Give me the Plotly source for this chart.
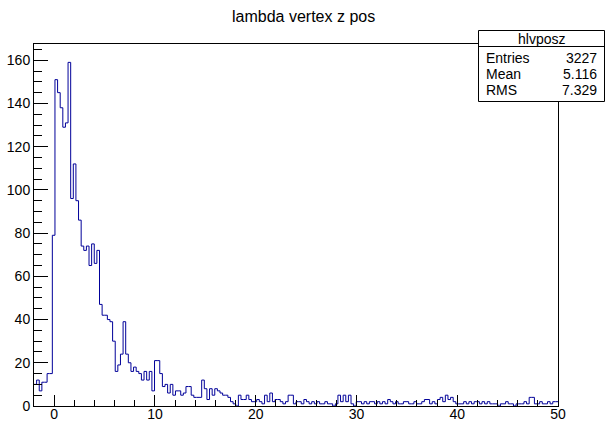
import numpy as np
import plotly.graph_objects as go

# Histogram hlvposz: lambda vertex z position, 200 bins on [-2, 50]
x_low = -2.0
x_high = 50.0
counts = [
    # bins 0-47 (z from -2 to about 10.5)
    10, 12, 7, 11, 11, 15, 15, 79,
    151, 145, 138, 129, 131, 159,
    96, 112, 95, 86,
    74, 72, 74, 65, 75, 66, 72,
    47, 42, 42, 40, 39, 30, 16, 19, 24, 39, 24, 20, 16, 18, 16,
    15, 12, 16, 12, 16, 7, 21, 21,
    # bins 48-89
    15, 9, 10, 6, 10, 5, 7, 7, 5, 6, 9, 9, 5, 4, 4, 4, 12, 8, 3, 8,
    5, 8, 7, 6, 5, 5, 4, 2, 1, 0, 5, 3, 3, 5, 3, 2, 2, 3, 2, 1,
    5, 2,
    # bins 90-147
    6, 2, 3, 3, 2, 1, 2, 5, 5, 1, 2, 2, 1, 3, 2, 1, 2, 1, 2, 1,
    1, 2, 1, 1, 0, 1, 5, 2, 5, 2, 5, 1, 0, 2, 2, 1, 2, 1, 2, 2,
    1, 2, 1, 2, 1, 3, 2, 1, 2, 1, 1, 2, 2, 1, 1, 2, 1, 1,
    # bins 148-199
    2, 3, 3, 1, 2, 1, 3, 4, 2, 5, 3, 4, 2, 1, 1, 1, 2, 1, 2, 1,
    2, 2, 1, 2, 1, 2, 1, 1, 1, 0, 1, 1, 2, 1, 1, 0, 1, 1, 1, 2,
    1, 4, 4, 1, 1, 2, 1, 1, 2, 1, 2, 2,
]

hist_title = "lambda vertex z pos"
stat_name = "hlvposz"
stat_labels = ["Entries", "Mean", "RMS"]
stat_values = ["3227", "5.116", "7.329"]

y_max = 167.5

n_bins = len(counts)
edges = np.linspace(x_low, x_high, n_bins + 1)
step_x = list(edges)
step_y = list(counts) + [counts[-1]]

FONT = "Liberation Sans, Arial, Helvetica, sans-serif"
W, H = 606, 421
ML, MR, MT, MB = 34, 48, 44, 15
PW = W - ML - MR
PH = H - MT - MB


def px(xp):
    return (xp - ML) / PW


def py(yp):
    return (H - MB - yp) / PH


fig = go.Figure()
fig.add_trace(go.Scatter(
    x=step_x, y=step_y, mode="lines",
    line=dict(shape="hv", color="#000099", width=1),
    hoverinfo="skip", showlegend=False,
))

fig.update_layout(
    width=W, height=H,
    margin=dict(l=ML, r=MR, t=MT, b=MB, autoexpand=False),
    paper_bgcolor="white", plot_bgcolor="white",
    font=dict(family=FONT, size=14, color="black"),
    showlegend=False,
)

fig.update_xaxes(
    range=[x_low, x_high], showgrid=False, zeroline=False,
    showline=True, linecolor="black", linewidth=1, mirror=True,
    ticks="inside", ticklen=11, tickcolor="black", tickwidth=1,
    tick0=0, dtick=10, tickfont=dict(size=14), ticklabelstandoff=-5,
    minor=dict(ticks="inside", ticklen=6, tick0=0, dtick=2,
               tickcolor="black", showgrid=False),
    automargin=False,
)
fig.update_yaxes(
    range=[0, y_max], showgrid=False, zeroline=False,
    showline=True, linecolor="black", linewidth=1, mirror=True,
    ticks="inside", ticklen=14, tickcolor="black", tickwidth=1,
    tick0=0, dtick=20, tickfont=dict(size=14),
    minor=dict(ticks="inside", ticklen=8, tick0=0, dtick=5,
               tickcolor="black", showgrid=False),
    automargin=False,
)

# title
fig.add_annotation(
    text=hist_title, xref="paper", yref="paper",
    x=px(303), y=py(17), xanchor="center", yanchor="middle",
    showarrow=False, font=dict(size=16),
)

# statistics box
box_l, box_r, box_t, box_div, box_b = 478.5, 604.5, 30.5, 46.5, 101.5
fig.add_shape(type="rect", xref="paper", yref="paper",
              x0=px(box_l), x1=px(box_r), y0=py(box_b), y1=py(box_t),
              line=dict(color="black", width=1), fillcolor="white",
              layer="above")
fig.add_shape(type="line", xref="paper", yref="paper",
              x0=px(box_l), x1=px(box_r), y0=py(box_div), y1=py(box_div),
              line=dict(color="black", width=1), layer="above")
fig.add_annotation(
    text=stat_name, xref="paper", yref="paper",
    x=px((box_l + box_r) / 2), y=py(39), xanchor="center", yanchor="middle",
    showarrow=False, font=dict(size=14),
)
row_y = [58, 74, 90]
for lab, val, ry in zip(stat_labels, stat_values, row_y):
    fig.add_annotation(text=lab, xref="paper", yref="paper",
                       x=px(484), y=py(ry), xanchor="left", yanchor="middle",
                       showarrow=False, font=dict(size=14))
    fig.add_annotation(text=val, xref="paper", yref="paper",
                       x=px(599), y=py(ry), xanchor="right", yanchor="middle",
                       showarrow=False, font=dict(size=14))

fig.write_html("out.html")
